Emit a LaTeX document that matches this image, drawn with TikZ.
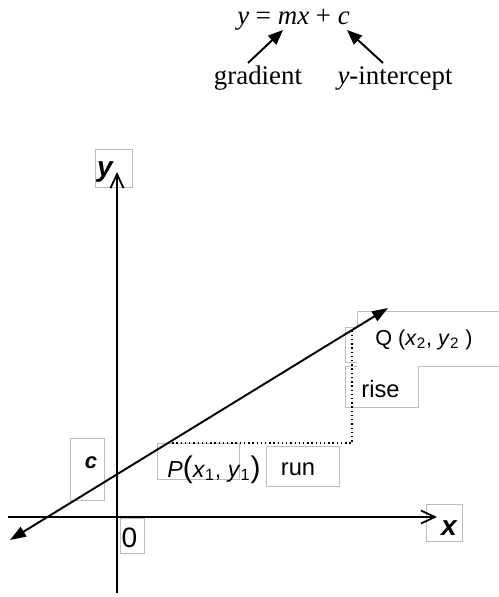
\documentclass[tikz,border=0pt]{standalone}
\usepackage{fontspec}
\setmainfont{Liberation Serif}
\setsansfont{Liberation Sans}
\usetikzlibrary{arrows.meta,calc}

\begin{document}
\begin{tikzpicture}[x=0.02cm,y=-0.02cm,
        axis/.style={line width=1.1pt,-{Straight Barb[length=0.28cm,width=0.26cm,line width=1pt]}},
        graph/.style={line width=1.1pt,{Triangle[length=0.32cm,width=0.22cm]}-{Triangle[length=0.32cm,width=0.22cm]}},
        pointer/.style={line width=1.1pt,-{Triangle[length=0.3cm,width=0.24cm]}},
        tbox/.style={draw=black!26,line width=0.5pt},
        serif/.style={inner sep=0pt,anchor=base,font=\fontsize{15.3}{17}\selectfont},
        lab/.style={inner sep=0pt,anchor=base,font=\sffamily\fontsize{13.5}{15}\selectfont},
        axlab/.style={inner sep=0pt,anchor=base,font=\sffamily\bfseries\itshape\fontsize{16}{18}\selectfont}]
    \useasboundingbox (0,0) rectangle (498,597);
    \node[serif] (eqn) at (293.5,25) {\textit{y} = \textit{mx} + \textit{c}};
    \node[serif] (gradlab) at (258,85) {gradient}; \node[serif] (intlab) at (395,85) {\textit{y}-intercept};
    \coordinate (gfoot) at (248,63); \coordinate (mtip) at (283,30); \coordinate (ifoot) at (383,63); \coordinate (ctip) at (347,30);
    \draw[pointer] (gfoot) -- (mtip); \draw[pointer] (ifoot) -- (ctip);
    \draw[tbox] (95,149) rectangle (132,187); \draw[tbox] (426,504) rectangle (462,541); \draw[tbox] (70,438) rectangle (104,500); \draw[tbox] (120,518) rectangle (144,553); \draw[tbox] (157,443) rectangle (239,479); \draw[tbox] (266,446) rectangle (339,486);
    \draw[tbox] (500,311) -- (357,311) -- (357,327) -- (345,327) -- (345,362) -- (357,362); \draw[tbox] (357,366) -- (345,366) -- (345,407) -- (418,407) -- (418,366) -- (500,366);
    \coordinate (ybot) at (117,593); \coordinate (ytop) at (117,172); \coordinate (xleft) at (8,517); \coordinate (xright) at (437,517);
    \coordinate (lo) at (10,540); \coordinate (hi) at (388,308);
    \coordinate (P) at ($(lo)!0.418!(hi)$); \coordinate (Q) at ($(lo)!0.905!(hi)$);
    \draw[line width=0.75pt,dash pattern=on 0.8pt off 1.6pt] (P) -| (Q);
    \draw[axis] (ybot) -- (ytop); \draw[axis] (xleft) -- (xright);
    \draw[graph] (lo) -- (hi);
    \node[axlab] (ylab) at (105,177) {y}; \node[axlab] (xlab) at (449,535) {x}; \node[axlab,font=\sffamily\bfseries\itshape\fontsize{12.5}{14}\selectfont] (clab) at (91,468) {c};
    \node[lab,font=\sffamily\fontsize{16}{18}\selectfont] (zero) at (129.5,547) {0};
    \node[lab] (runlab) at (298,475) {run}; \node[lab,anchor=base west] (riselab) at (361,397) {rise};
    \node[lab,anchor=base west,font=\sffamily\fontsize{12.3}{14}\selectfont] (qlab) at (375,345) {Q (\textit{x}\textsubscript{2}, \textit{y}\textsubscript{2} )};
    \node[lab,anchor=base west,font=\sffamily\fontsize{13.2}{15}\selectfont] (plab) at (167,477) {\textit{P}{\fontsize{17}{17}\selectfont(}\textit{x}\textsubscript{1}, \textit{y}\textsubscript{1}{\fontsize{17}{17}\selectfont)}};
\end{tikzpicture}
\end{document}
